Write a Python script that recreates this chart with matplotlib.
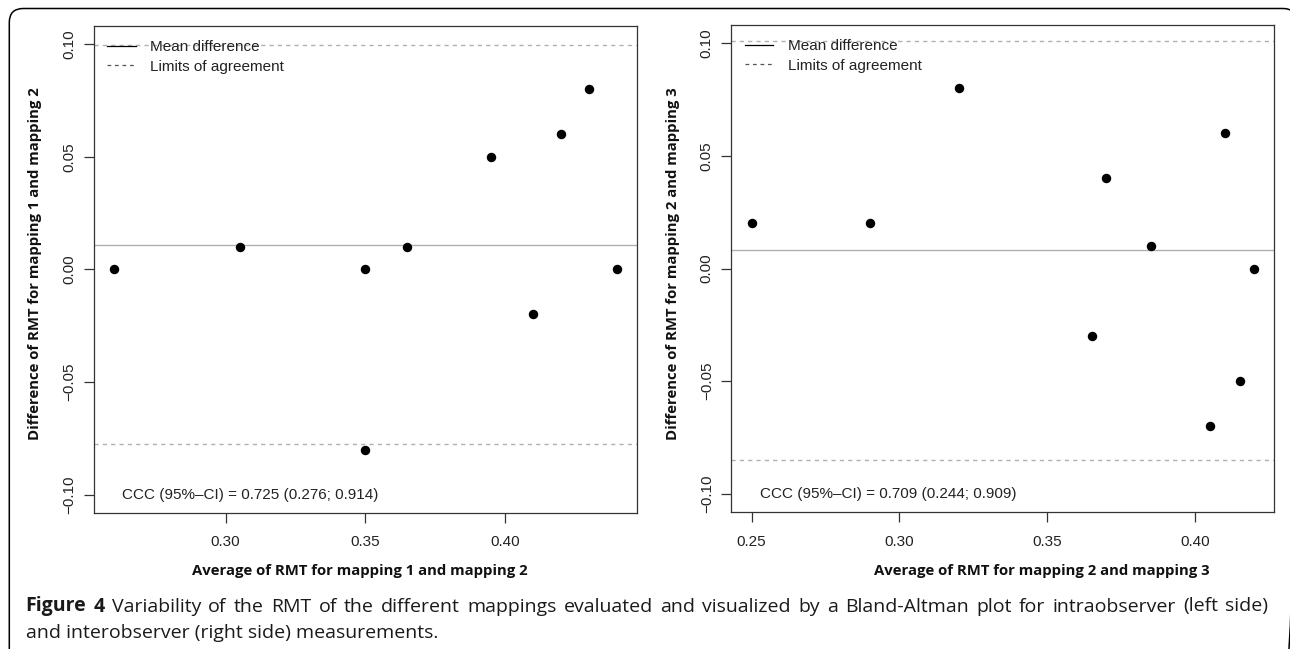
import matplotlib
matplotlib.use("Agg")
import matplotlib.pyplot as plt
from matplotlib.lines import Line2D
from matplotlib.patches import FancyBboxPatch
from matplotlib.ticker import FixedLocator, FuncFormatter

# ---------------- data ----------------
left_avg = [0.26, 0.305, 0.35, 0.365, 0.395, 0.41, 0.42, 0.43, 0.44, 0.35]
left_diff = [0.00, 0.01, 0.00, 0.01, 0.05, -0.02, 0.06, 0.08, 0.00, -0.08]
left_mean = 0.011
left_loa = [-0.0774, 0.0994]
left_ccc = "CCC (95%\u2013CI) = 0.725 (0.276; 0.914)"
left_xlabel = "Average of RMT for mapping 1 and mapping 2"
left_ylabel = "Difference of RMT for mapping 1 and mapping 2"
left_xticks = [0.30, 0.35, 0.40]

right_avg = [0.25, 0.29, 0.32, 0.37, 0.385, 0.41, 0.42, 0.365, 0.415, 0.405]
right_diff = [0.02, 0.02, 0.08, 0.04, 0.01, 0.06, 0.00, -0.03, -0.05, -0.07]
right_mean = 0.008
right_loa = [-0.0848, 0.1008]
right_ccc = "CCC (95%\u2013CI) = 0.709 (0.244; 0.909)"
right_xlabel = "Average of RMT for mapping 2 and mapping 3"
right_ylabel = "Difference of RMT for mapping 2 and mapping 3"
right_xticks = [0.25, 0.30, 0.35, 0.40]

yticks = [-0.10, -0.05, 0.00, 0.05, 0.10]
legend_labels = ["Mean difference", "Limits of agreement"]
caption_bold = "Figure 4"
caption_rest = ("Variability of the RMT of the different mappings evaluated and "
                "visualized by a Bland-Altman plot for intraobserver (left side)")
caption_line2 = "and interobserver (right side) measurements."

# ---------------- figure ----------------
W, H = 1290, 649
fig = plt.figure(figsize=(W / 100, H / 100), dpi=100)

TICKFONT = "Liberation Sans"
LABELFONT = "Open Sans"
GRAY = "#b0b0b0"
FRAME = "#333333"


def fmt(v, pos):
    s = f"{v:.2f}"
    return s.replace("-", "\u2212")


def panel(rect, xs, ys, mean, loa, ccc, xlabel, ylabel, xticks, xlim, xlabel_pos):
    ax = fig.add_axes(rect)
    ax.set_xlim(*xlim)
    ax.set_ylim(-0.108, 0.108)
    ax.axhline(mean, color=GRAY, lw=1.0, zorder=1)
    for v in loa:
        ax.axhline(v, color=GRAY, lw=1.0, ls=(0, (3, 3)), zorder=1)
    ax.plot(xs, ys, "o", color="black", ms=5.8, zorder=3)
    for s in ax.spines.values():
        s.set_color(FRAME)
        s.set_linewidth(0.9)
    ax.xaxis.set_major_locator(FixedLocator(xticks))
    ax.yaxis.set_major_locator(FixedLocator(yticks))
    ax.xaxis.set_major_formatter(FuncFormatter(fmt))
    ax.yaxis.set_major_formatter(FuncFormatter(fmt))
    ax.tick_params(direction="out", length=7.2, width=0.9, color=FRAME,
                   labelsize=11, labelcolor="#222222")
    ax.tick_params(axis="x", pad=9)
    ax.tick_params(axis="y", pad=5.5)
    for lab in ax.get_xticklabels() + ax.get_yticklabels():
        lab.set_family(TICKFONT)
    for lab in ax.get_yticklabels():
        lab.set_rotation(90)
        lab.set_va("center")
    ax.text(0.052, 0.037, ccc, transform=ax.transAxes, ha="left", va="center",
            fontsize=11, family=TICKFONT, color="#222222")
    ax.text(xlabel_pos[0], xlabel_pos[1], xlabel, transform=ax.transAxes,
            ha="center", va="center", fontsize=10.7, fontweight="bold",
            family=LABELFONT, color="#111111")
    ax.text(-0.108, 0.511, ylabel, transform=ax.transAxes, rotation=90,
            ha="center", va="center", fontsize=10.7, fontweight="bold",
            family=LABELFONT, color="#111111")
    handles = [Line2D([], [], color="black", lw=0.9),
               Line2D([], [], color="#555555", lw=0.9, ls=(0, (3, 3)))]
    leg = ax.legend(handles, legend_labels, loc="upper left",
                    bbox_to_anchor=(0.025, 0.971), borderaxespad=0, borderpad=0,
                    frameon=False, handlelength=1.85, handletextpad=0.95,
                    labelspacing=0.36, prop={"family": TICKFONT, "size": 11})
    for t in leg.get_texts():
        t.set_color("#222222")
    return ax


panel([93.8 / W, 1 - 512.7 / H, 543 / W, 486.7 / H], left_avg, left_diff,
      left_mean, left_loa, left_ccc, left_xlabel, left_ylabel, left_xticks,
      (0.2528, 0.4472), (0.490, -0.119))
panel([731.4 / W, 1 - 512 / H, 543 / W, 487 / H], right_avg, right_diff,
      right_mean, right_loa, right_ccc, right_xlabel, right_ylabel, right_xticks,
      (0.2432, 0.4268), (0.571, -0.1205))

# overlay in pixel coordinates for frame and caption
ov = fig.add_axes([0, 0, 1, 1], zorder=-1)
ov.set_xlim(0, W)
ov.set_ylim(H, 0)
ov.axis("off")
frame = FancyBboxPatch((9.3, 8.5), 1297 - 9.3, 690 - 8.5,
                       boxstyle="round,pad=0,rounding_size=14",
                       fill=False, ec="black", lw=1.1, clip_on=False)
ov.add_patch(frame)

ov2 = fig.add_axes([0, 0, 1, 1])
ov2.set_xlim(0, W)
ov2.set_ylim(H, 0)
ov2.axis("off")
CAPSIZE = 14
CAPCOLOR = "#1a1a1a"

# justified first caption line
words = [(w, True) for w in caption_bold.split()] + \
        [(w, False) for w in caption_rest.split()]
texts = []
for w, b in words:
    texts.append(ov2.text(0, 611.5, w, ha="left", va="baseline", fontsize=CAPSIZE,
                          fontweight="bold" if b else "normal",
                          family=LABELFONT, color=CAPCOLOR))
fig.canvas.draw()
renderer = fig.canvas.get_renderer()
widths = [t.get_window_extent(renderer).width for t in texts]
x_start, x_end = 25.5, 1268.0
gap = (x_end - x_start - sum(widths)) / (len(texts) - 1)
x = x_start
for t, wd in zip(texts, widths):
    t.set_x(x)
    x += wd + gap

ov2.text(25.5, 638, caption_line2, ha="left", va="baseline", fontsize=CAPSIZE,
         family=LABELFONT, color=CAPCOLOR)

fig.savefig("out.png", dpi=100)
